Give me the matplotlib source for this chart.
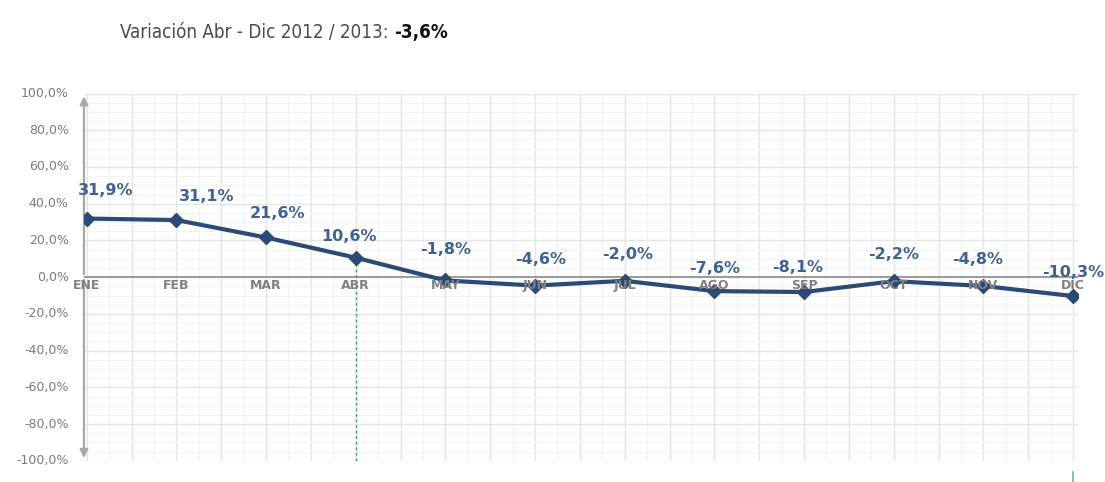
import numpy as np
import matplotlib.pyplot as plt
from matplotlib.ticker import MultipleLocator

# Variación mensual 2012 / 2013
meses = ['ENE', 'FEB', 'MAR', 'ABR', 'MAY', 'JUN', 'JUL', 'AGO', 'SEP', 'OCT', 'NOV', 'DIC']
variacion = [31.9, 31.1, 21.6, 10.6, -1.8, -4.6, -2.0, -7.6, -8.1, -2.2, -4.8, -10.3]
y_ticks = [100, 80, 60, 40, 20, 0, -20, -40, -60, -80, -100]
variacion_total = '-3,6%'
mes_inicio = 'ABR'

# desplazamiento de las etiquetas (puntos)
label_dx = [14, 22, 8, -5, 0, 4, 2, 0, -5, 0, -4, 0]
label_dy = [20, 17, 17, 15, 22, 19, 19, 16, 18, 19, 19, 17]

linea = '#2b4a76'
texto_val = '#41628f'
gris = '#808080'

fig = plt.figure(figsize=(11.05, 4.82), dpi=100)
ax = fig.add_axes([0.076, 0.044, 0.900, 0.762])

x = np.arange(len(meses))
ax.set_xlim(-0.03, 11.06)
ax.set_ylim(-100, 100)

# cuadrícula fina
ax.xaxis.set_minor_locator(MultipleLocator(0.25))
ax.yaxis.set_minor_locator(MultipleLocator(5))
ax.set_xticks(np.arange(0, 11.5, 0.5))
ax.set_yticks(y_ticks)
ax.grid(True, which='major', color='#e4e4e4', linewidth=1.0)
ax.grid(True, which='minor', color='#f2f2f2', linewidth=0.8)
ax.tick_params(which='both', length=0, labelbottom=False, labelleft=False)
for s in ax.spines.values():
    s.set_visible(False)

# eje vertical con flechas y línea del cero
ax.annotate('', xy=(-0.03, 100), xytext=(-0.03, 0),
            arrowprops=dict(arrowstyle='-|>', color='#a8a8a8', lw=1.6, mutation_scale=12))
ax.annotate('', xy=(-0.03, -100), xytext=(-0.03, 0),
            arrowprops=dict(arrowstyle='-|>', color='#a8a8a8', lw=1.6, mutation_scale=12))
ax.axhline(0, color='#9a9a9a', lw=1.4, zorder=2)

# línea de inicio del periodo
i0 = meses.index(mes_inicio)
ax.plot([i0, i0], [variacion[i0], -100], color='#3aa070', lw=1.0,
        linestyle=(0, (2, 2)), zorder=2)
ax.plot([11, 11], [-106, -112], color='#6fb3a8', lw=1.2, clip_on=False)

ax.plot(x, variacion, color=linea, lw=3, marker='D', markersize=7.5, zorder=3)

for i, (m, v) in enumerate(zip(meses, variacion)):
    ax.text(i, -4.5, m, ha='center', va='center', fontsize=9,
            fontweight='bold', color=gris, zorder=4)
    ax.annotate(f'{v:.1f}%'.replace('.', ','), (i, v),
                xytext=(label_dx[i], label_dy[i]), textcoords='offset points',
                ha='center', va='center', fontsize=11.5, fontweight='bold',
                color=texto_val, annotation_clip=False, zorder=5)

for t in y_ticks:
    ax.text(-0.2, t, f'{t:.1f}%'.replace('.', ','), ha='right', va='center',
            fontsize=9, color='#7a7a7a')

fam = ['Liberation Sans Narrow', 'DejaVu Sans']
t1 = fig.text(0.109, 0.933, 'Variación Abr - Dic 2012 / 2013: ', ha='left', va='center',
              fontsize=13.5, color='#4a4a4a', family=fam, fontstretch='condensed')
fig.canvas.draw()
bb = t1.get_window_extent()
fig.text(bb.x1 / fig.bbox.width, 0.933, variacion_total, ha='left', va='center',
         fontsize=13.5, fontweight='bold', color='#111111', family=fam,
         fontstretch='condensed')

fig.savefig('out.png', dpi=100)
